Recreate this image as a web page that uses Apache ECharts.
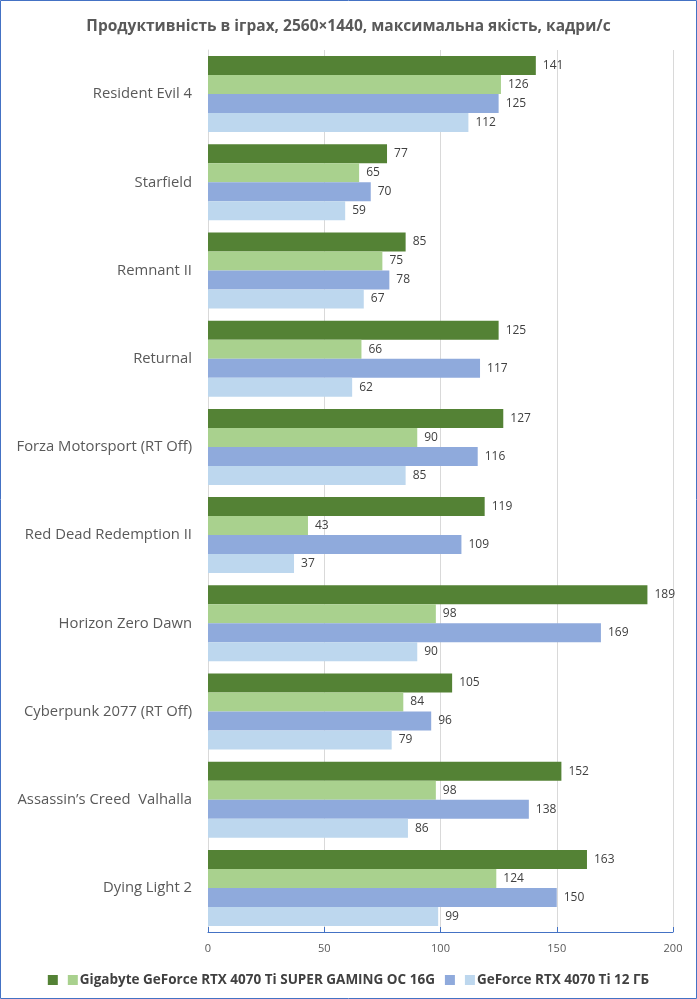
<!DOCTYPE html>
<html><head><meta charset="utf-8">
<script src="https://cdn.jsdelivr.net/npm/echarts@6/dist/echarts.min.js"></script>
<style>html,body{margin:0;padding:0;background:#fff}#c{width:697px;height:999px}</style>
</head><body><div id="c"></div>
<script>
const categories = ["Resident Evil 4","Starfield","Remnant II","Returnal","Forza Motorsport (RT Off)","Red Dead Redemption II","Horizon Zero Dawn","Cyberpunk 2077 (RT Off)","Assassin\u2019s Creed  Valhalla","Dying Light 2"];
const seriesNames = ["s1","Gigabyte GeForce RTX 4070 Ti SUPER GAMING OC 16G","s3","GeForce RTX 4070 Ti 12 ГБ"];
const legendText = ["","Gigabyte GeForce RTX 4070 Ti SUPER GAMING OC 16G","","GeForce RTX 4070 Ti 12 ГБ"];
const s1 = [141,77,85,125,127,119,189,105,152,163];
const s2 = [126,65,75,66,90,43,98,84,98,124];
const s3 = [125,70,78,117,116,109,169,96,138,150];
const s4 = [112,59,67,62,85,37,90,79,86,99];
const xTicks = [0,50,100,150,200];
const colors = ["#548235","#A9D18E","#8FAADC","#BDD7EE"];
const FONT = "'Open Sans', sans-serif";

const chart = echarts.init(document.getElementById('c'), null, {renderer:'canvas'});
const values = [s1,s2,s3,s4];
chart.setOption({
  animation:false,
  color: colors,
  title:{text:"Продуктивність в іграх, 2560×1440, максимальна якість, кадри/с",left:'center',top:14,
    textStyle:{fontFamily:FONT,fontSize:15.5,fontWeight:'bold',color:'#595959'}},
  graphic:[{type:'rect',shape:{x:0.5,y:0.5,width:696,height:998},style:{fill:null,stroke:'#4472C4',lineWidth:1},silent:true}],
  legend:{top:968,left:'center',itemWidth:10,itemHeight:10,itemGap:10,icon:'rect',
    data:seriesNames,
    formatter:function(n){return legendText[seriesNames.indexOf(n)];},
    textStyle:{fontFamily:FONT,fontSize:13.5,fontWeight:'bold',color:'#404040',padding:[0,0,0,-3]}},
  grid:{left:208,right:24,top:50,bottom:67,containLabel:false},
  xAxis:{type:'value',min:0,max:200,interval:50,
    axisLine:{show:true,lineStyle:{color:'#4472C4'}},
    axisTick:{show:true,inside:true,length:5,lineStyle:{color:'#4472C4'}},
    splitLine:{show:true,lineStyle:{color:'#D9D9D9'}},
    axisLabel:{fontFamily:FONT,fontSize:11,color:'#595959',margin:11,
      formatter:function(v){return xTicks.indexOf(v)>=0?String(v):'';}}},
  yAxis:{type:'category',data:categories,inverse:true,
    axisLine:{show:true,lineStyle:{color:'#D9D9D9'}},axisTick:{show:false},
    axisLabel:{fontFamily:FONT,fontSize:14.8,color:'#595959',margin:16}},
  series: values.map(function(v,i){return {
    name:seriesNames[i],type:'bar',data:v,barWidth:19,barGap:'0%',
    itemStyle:{color:colors[i]},
    label:{show:true,position:'right',distance:7,fontFamily:FONT,fontSize:12,color:'#404040'}
  };})
});
</script></body></html>
